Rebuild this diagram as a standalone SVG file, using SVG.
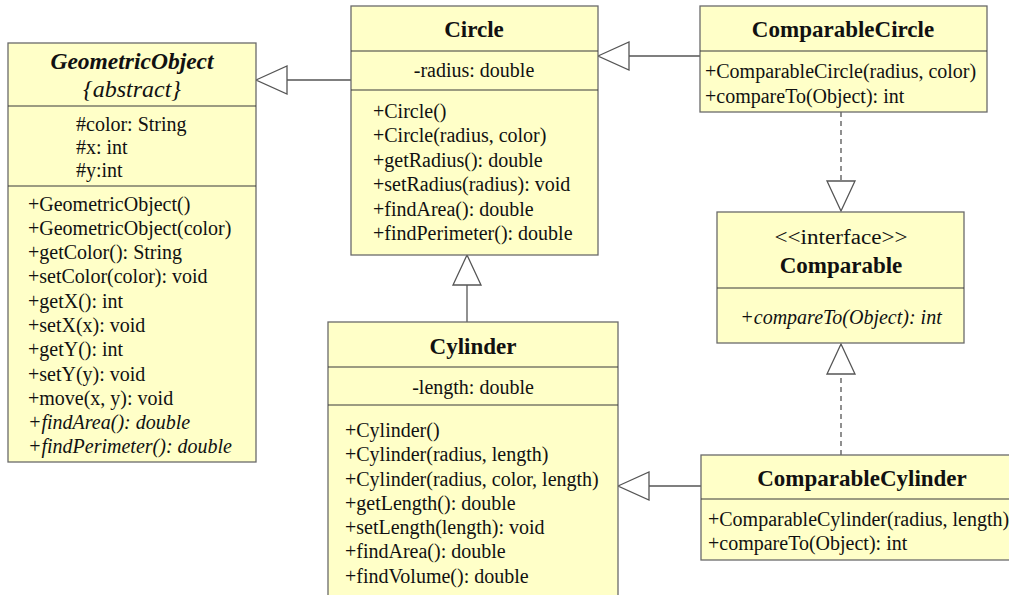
<svg xmlns="http://www.w3.org/2000/svg" width="1009" height="595" viewBox="0 0 1009 595" font-family="'Liberation Serif', 'DejaVu Serif', serif">
<style>
.box{fill:#FFFFC8;stroke:#6a6a6a;stroke-width:1.3}
.div{stroke:#3a3a3a;stroke-width:1.2}
text{font-family:'Liberation Serif','DejaVu Serif',serif;font-size:20px;fill:#111}
.t{font-weight:bold;font-size:23px;text-anchor:middle}
.c{text-anchor:middle}
.i{font-style:italic}
.edge{fill:none;stroke:#555;stroke-width:1.3}
.dash{stroke-dasharray:5,4}
.head{fill:#fff;stroke:#555;stroke-width:1.3}
</style>
<rect width="1009" height="595" fill="#fff"/>
<g id="connectors">
  <line class="edge" x1="351" y1="80" x2="287" y2="80"/>
  <polygon class="head" points="256,80 287,66 287,94"/>
  <line class="edge" x1="700" y1="56" x2="629" y2="56"/>
  <polygon class="head" points="598,56 629,42 629,70"/>
  <line class="edge" x1="467" y1="322" x2="467" y2="285"/>
  <polygon class="head" points="467,255 453,285 481,285"/>
  <line class="edge" x1="701" y1="486" x2="649" y2="486"/>
  <polygon class="head" points="618,486 649,472 649,500"/>
  <line class="edge dash" x1="841" y1="112" x2="841" y2="181"/>
  <polygon class="head" points="841,211 827,181 855,181"/>
  <line class="edge dash" x1="841" y1="455" x2="841" y2="374"/>
  <polygon class="head" points="841,344 827,374 855,374"/>
</g>
<g id="GeometricObject">
  <rect class="box" x="8" y="43" width="248" height="419"/>
  <line class="div" x1="8" y1="106" x2="256" y2="106"/>
  <line class="div" x1="8" y1="186" x2="256" y2="186"/>
  <text class="t i" x="132" y="69" style="font-size:23.5px">GeometricObject</text>
  <text class="c i" x="132" y="97" style="font-size:24px">{abstract}</text>
  <text x="76" y="131">#color: String</text>
  <text x="76" y="154">#x: int</text>
  <text x="76" y="177">#y:int</text>
  <text x="28" y="211">+GeometricObject()</text>
  <text x="28" y="235">+GeometricObject(color)</text>
  <text x="28" y="259">+getColor(): String</text>
  <text x="28" y="283">+setColor(color): void</text>
  <text x="28" y="308">+getX(): int</text>
  <text x="28" y="332">+setX(x): void</text>
  <text x="28" y="356">+getY(): int</text>
  <text x="28" y="381">+setY(y): void</text>
  <text x="28" y="405">+move(x, y): void</text>
  <text class="i" x="28" y="429">+findArea(): double</text>
  <text class="i" x="28" y="453">+findPerimeter(): double</text>
</g>
<g id="Circle">
  <rect class="box" x="351" y="6" width="247" height="249"/>
  <line class="div" x1="351" y1="51" x2="598" y2="51"/>
  <line class="div" x1="351" y1="90" x2="598" y2="90"/>
  <text class="t" x="474" y="37">Circle</text>
  <text class="c" x="474" y="77">-radius: double</text>
  <text x="373" y="118">+Circle()</text>
  <text x="373" y="142">+Circle(radius, color)</text>
  <text x="373" y="167">+getRadius(): double</text>
  <text x="373" y="191">+setRadius(radius): void</text>
  <text x="373" y="216">+findArea(): double</text>
  <text x="373" y="240">+findPerimeter(): double</text>
</g>
<g id="ComparableCircle">
  <rect class="box" x="700" y="6" width="287" height="106"/>
  <line class="div" x1="700" y1="51" x2="987" y2="51"/>
  <text class="t" x="843" y="37">ComparableCircle</text>
  <text x="705" y="78">+ComparableCircle(radius, color)</text>
  <text x="705" y="103">+compareTo(Object): int</text>
</g>
<g id="Comparable">
  <rect class="box" x="717" y="212" width="247" height="131"/>
  <line class="div" x1="717" y1="288" x2="964" y2="288"/>
  <text class="c" x="841" y="244" textLength="133" lengthAdjust="spacingAndGlyphs">&lt;&lt;interface&gt;&gt;</text>
  <text class="t" x="841" y="273">Comparable</text>
  <text class="c i" x="841" y="324">+compareTo(Object): int</text>
</g>
<g id="Cylinder">
  <rect class="box" x="328" y="322" width="290" height="290"/>
  <line class="div" x1="328" y1="367" x2="618" y2="367"/>
  <line class="div" x1="328" y1="405" x2="618" y2="405"/>
  <text class="t" x="473" y="354">Cylinder</text>
  <text class="c" x="473" y="394">-length: double</text>
  <text x="345" y="437">+Cylinder()</text>
  <text x="345" y="461">+Cylinder(radius, length)</text>
  <text x="345" y="486">+Cylinder(radius, color, length)</text>
  <text x="345" y="510">+getLength(): double</text>
  <text x="345" y="534">+setLength(length): void</text>
  <text x="345" y="558">+findArea(): double</text>
  <text x="345" y="583">+findVolume(): double</text>
</g>
<g id="ComparableCylinder">
  <rect class="box" x="701" y="455" width="320" height="105"/>
  <line class="div" x1="701" y1="499" x2="1021" y2="499"/>
  <text class="t" x="862" y="486">ComparableCylinder</text>
  <text x="708" y="526">+ComparableCylinder(radius, length)</text>
  <text x="708" y="550">+compareTo(Object): int</text>
</g>
</svg>
